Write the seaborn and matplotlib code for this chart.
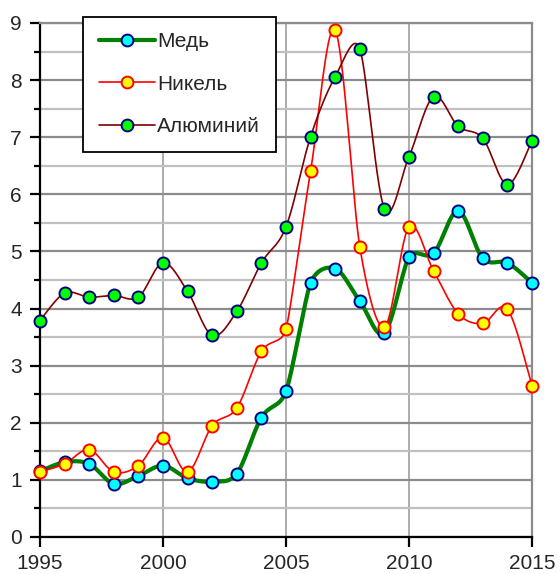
import matplotlib.pyplot as plt
import matplotlib.ticker as ticker
from matplotlib.lines import Line2D
import numpy as np
import pandas as pd
import seaborn as sns

years = list(range(1995, 2016))
copper = [1.15, 1.31, 1.28, 0.93, 1.07, 1.25, 1.03, 0.97, 1.11, 2.09, 2.55,
          4.45, 4.70, 4.13, 3.57, 4.90, 4.97, 5.71, 4.88, 4.80, 4.45]
nickel = [1.14, 1.28, 1.53, 1.14, 1.25, 1.74, 1.14, 1.95, 2.26, 3.25, 3.64,
          6.41, 8.87, 5.08, 3.68, 5.43, 4.66, 3.91, 3.74, 3.99, 2.65]
aluminium = [3.79, 4.27, 4.20, 4.23, 4.20, 4.80, 4.30, 3.53, 3.95, 4.80, 5.43,
             7.01, 8.06, 8.55, 5.75, 6.66, 7.71, 7.19, 6.98, 6.17, 6.94]
names = ["Медь", "Никель", "Алюминий"]

# pixel size of one year / one unit, smoothing is done in screen space like Excel
PX_X, PX_Y = 24.6, 57.0


def smooth(x, y, n=30):
    # Excel-like smoothed line: Bezier segments, handle = |P[i+1]-P[i-1]|/6,
    # clamped to half of the neighbouring chords
    p = np.column_stack([np.asarray(x) * PX_X, np.asarray(y) * PX_Y]).astype(float)
    m = len(p)
    out_h, in_h = [], []
    for i in range(m):
        a = p[max(i - 1, 0)]
        b = p[min(i + 1, m - 1)]
        tan = b - a
        d02 = np.hypot(*tan)
        f = 1 / 6
        if d02 > 0:
            if i > 0:
                f = min(f, np.hypot(*(p[i] - p[i - 1])) / (2 * d02))
            if i < m - 1:
                f = min(f, np.hypot(*(p[i + 1] - p[i])) / (2 * d02))
        out_h.append(p[i] + tan * f)
        in_h.append(p[i] - tan * f)
    t = np.linspace(0, 1, n)[:, None]
    out = []
    for i in range(m - 1):
        p0, p1, p2, p3 = p[i], out_h[i], in_h[i + 1], p[i + 1]
        seg = ((1 - t) ** 3) * p0 + 3 * ((1 - t) ** 2) * t * p1 \
            + 3 * (1 - t) * t ** 2 * p2 + t ** 3 * p3
        out.append(seg if i == 0 else seg[1:])
    out = np.vstack(out)
    return out[:, 0] / PX_X, out[:, 1] / PX_Y


sns.set_style("white")
plt.rcParams["font.family"] = ["Liberation Sans", "DejaVu Sans"]

fig = plt.figure(figsize=(5.6, 5.74), dpi=100)
ax = fig.add_axes([40 / 560, 37 / 574, 492 / 560, 514 / 574])

styles = [
    dict(line="#008000", lw=3.0, face="#00FFFF", edge="#000080"),
    dict(line="#FF0000", lw=1.2, face="#FFFF00", edge="#FF0000"),
    dict(line="#800000", lw=1.2, face="#00FF00", edge="#000080"),
]
series = [copper, nickel, aluminium]

for vals, st in zip(series, styles):
    sx, sy = smooth(years, vals)
    curve = pd.DataFrame({"year": sx, "value": sy})
    sns.lineplot(data=curve, x="year", y="value", ax=ax, sort=False,
                 estimator=None, color=st["line"], linewidth=st["lw"], zorder=3)

for vals, st in zip(series, styles):
    pts = pd.DataFrame({"year": years, "value": vals})
    sns.scatterplot(data=pts, x="year", y="value", ax=ax, s=75,
                    color=st["face"], edgecolor=st["edge"], linewidth=1.4,
                    zorder=4, clip_on=False)

ax.set_xlim(1995, 2015)
ax.set_ylim(0, 9)
ax.set_xlabel("")
ax.set_ylabel("")

ax.xaxis.set_major_locator(ticker.MultipleLocator(5))
ax.yaxis.set_major_locator(ticker.MultipleLocator(1))
ax.yaxis.set_minor_locator(ticker.MultipleLocator(0.5))

ax.grid(axis="y", which="major", color="#8c8c8c", linewidth=1.6, zorder=0)
ax.grid(axis="y", which="minor", color="#c0c0c0", linewidth=1.6, zorder=0)
ax.grid(axis="x", which="major", color="#a6a6a6", linewidth=1.3, zorder=0)
ax.set_axisbelow(True)

for side in ["top", "right"]:
    ax.spines[side].set_color("#8c8c8c")
    ax.spines[side].set_linewidth(1.6)
for side in ["left", "bottom"]:
    ax.spines[side].set_color("black")
    ax.spines[side].set_linewidth(1.6)

ax.tick_params(axis="both", which="major", direction="out", length=7,
               width=1.6, color="black", labelsize=15, left=True, bottom=True)
ax.tick_params(axis="y", which="minor", direction="out", length=4,
               width=1.6, color="black", left=True)
ax.tick_params(axis="y", pad=6)
ax.tick_params(axis="x", pad=5)

handles = [
    Line2D([], [], color=st["line"], lw=st["lw"], marker="o", markersize=8.5,
           markerfacecolor=st["face"], markeredgecolor=st["edge"],
           markeredgewidth=1.4)
    for st in styles
]
leg = ax.legend(handles, names, loc="upper left", bbox_to_anchor=(0.088, 1.012),
                fontsize=15, frameon=True, fancybox=False, framealpha=1,
                edgecolor="black", handlelength=2.7, labelspacing=1.12,
                borderpad=0.75, handletextpad=0.1, borderaxespad=0)
leg.get_frame().set_linewidth(1.3)

fig.savefig("out.png", dpi=100)
